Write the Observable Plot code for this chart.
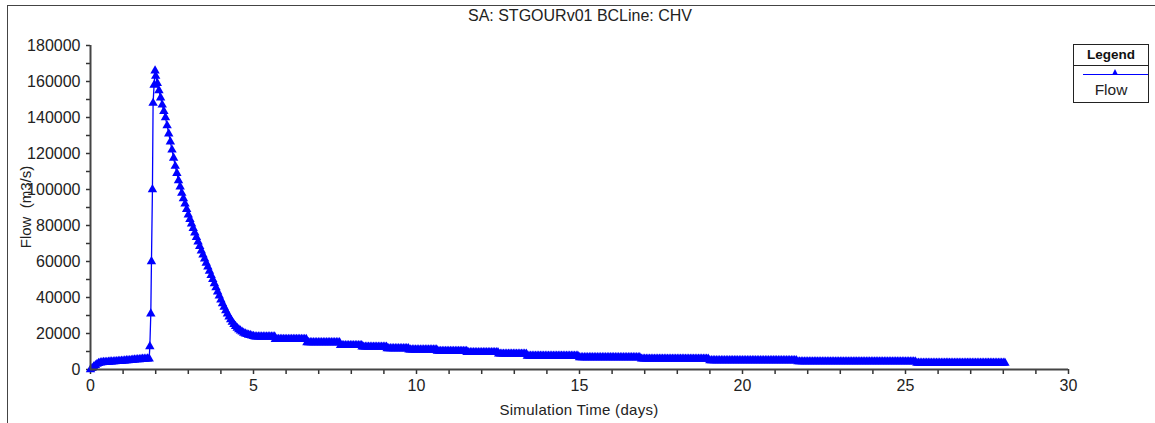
<!DOCTYPE html>
<html><head><meta charset="utf-8">
<script src="https://cdn.jsdelivr.net/npm/d3@7"></script>
<script src="https://cdn.jsdelivr.net/npm/@observablehq/plot@0.6"></script>
<style>
body{margin:0;background:#fff;font-family:"Liberation Sans",Arial,sans-serif;}
#wrap{position:relative;width:1155px;height:423px;overflow:hidden;background:#fff}
#wrap svg{position:absolute;left:0;top:0}
.frameTop{position:absolute;left:7px;top:5px;width:1148px;height:0;border-top:1.5px solid #444}
.frameLeft{position:absolute;left:7px;top:5px;width:0;height:418px;border-left:1.5px solid #444}
.title{position:absolute;left:0;width:1160px;top:7px;text-align:center;font-size:16px;color:#222}
.xlab{position:absolute;left:90px;width:978px;top:401px;text-align:center;font-size:15px;color:#222;letter-spacing:0.3px}
.ylab{position:absolute;left:25px;top:207px;font-size:15px;color:#222;transform:translate(-50%,-50%) rotate(-90deg);white-space:pre}
.legend{position:absolute;left:1073px;top:44px;width:74px;height:57px;border:1px solid #222;background:#fff}
.legend .hd{height:20px;border-bottom:1px solid #222;text-align:center;font-weight:bold;font-size:13.5px;line-height:20px;color:#111}
.legend .ln{position:absolute;left:9px;right:0;top:29px;height:0;border-top:1.3px solid #0000ff}
.legend .tri{position:absolute;left:38px;top:24px;width:0;height:0;border-left:3.5px solid transparent;border-right:3.5px solid transparent;border-bottom:6px solid #0000ff}
.legend .nm{position:absolute;left:0;right:0;top:36px;text-align:center;font-size:15.5px;color:#222}
</style></head><body>
<div id="wrap">
  <div class="frameTop"></div><div class="frameLeft"></div>
  <div class="title">SA: STGOURv01 BCLine: CHV</div>
  <div class="xlab">Simulation Time (days)</div>
  <div class="ylab">Flow  (m3/s)</div>
  <div class="legend"><div class="hd">Legend</div><div class="ln"></div><div class="tri"></div><div class="nm">Flow</div></div>
</div>
<script>
// ---- data ----
// base flow before the flood, sampled every 0.05 day from day 0 (m3/s)
const baseT0 = 0, baseDt = 0.05;
const baseQ = [0, 700, 1500, 2300, 3000, 3500, 3800, 3900, 4000, 4050, 4100, 4200, 4300, 4350, 4400, 4450,
  4500, 4550, 4600, 4700, 4800, 4900, 5000, 5050, 5100, 5200, 5300, 5400, 5500, 5550, 5600, 5700,
  5800, 5850, 5900, 5950, 6000];
// rising limb and peak
const spikeT = [1.82, 1.85, 1.87, 1.90, 1.92, 1.95, 1.98];
const spikeQ = [12800, 31000, 60000, 100000, 148000, 158000, 166000];
// recession, sampled every 0.05 day from 2.0 to 5.0
const recT0 = 2.0, recDt = 0.05;
const recQ = [163000, 159000, 155000, 151000, 147000, 143500, 140000, 135500, 131000, 126500,
  122000, 117500, 113000, 109000, 105000, 101500, 98000, 95000, 92000, 89000,
  86000, 83500, 81000, 78500, 76000, 73500, 71000, 68500, 66000, 63700,
  61500, 59200, 57000, 54700, 52400, 50100, 47800, 45500, 43200, 41000,
  38800, 36700, 34700, 32800, 31000, 29300, 27800, 26400, 25100, 24000,
  23000, 22200, 21500, 20900, 20300, 19900, 19500, 19200, 19000, 18700, 18500];
// stepped tail: plateau start day and level
const tailStart = [5.05, 5.67, 6.64, 7.67, 8.33, 9.1, 9.77, 10.64, 11.55, 12.52, 13.4, 15.0, 16.9, 19.0, 21.7, 25.35];
const tailLevel = [18200, 16800, 15000, 13400, 12600, 11700, 11000, 10200, 9500, 8700, 7500, 6700, 5900, 5000, 4400, 3600];
const tailEnd = 28.05;
const tailDt = 0.05;
// axes
const xMajor = [0, 5, 10, 15, 20, 25, 30];
const xMinor = [1, 2, 3, 4, 6, 7, 8, 9, 11, 12, 13, 14, 16, 17, 18, 19, 21, 22, 23, 24, 26, 27, 28, 29];
const yMajor = [0, 20000, 40000, 60000, 80000, 100000, 120000, 140000, 160000, 180000];
const yMinor = [10000, 30000, 50000, 70000, 90000, 110000, 130000, 150000, 170000];

// ---- build the series ----
const series = [];
baseQ.forEach((q, i) => series.push({t: baseT0 + i * baseDt, q}));
spikeT.forEach((t, i) => series.push({t, q: spikeQ[i]}));
recQ.forEach((q, i) => series.push({t: recT0 + i * recDt, q}));
tailStart.forEach((s, i) => {
  const e = i + 1 < tailStart.length ? tailStart[i + 1] : tailEnd + 1e-9;
  for (let t = s; t < e - 1e-9; t += tailDt) series.push({t, q: tailLevel[i]});
});
series.push({t: tailEnd, q: tailLevel[tailLevel.length - 1]});

const blue = "#0000ff";
const chart = Plot.plot({
  width: 1155, height: 423,
  marginLeft: 90, marginRight: 87, marginTop: 45, marginBottom: 54,
  x: {domain: [0, 30]},
  y: {domain: [0, 180000]},
  style: {fontFamily: "Liberation Sans, Arial, sans-serif", fontSize: "16px", color: "#222", background: "transparent", overflow: "visible"},
  marks: [
    Plot.axisX(xMajor, {tickSize: 5, tickPadding: 5, tickFormat: d => String(d), label: null, stroke: "#333", strokeWidth: 1.5}),
    Plot.axisX(xMinor, {tickSize: 5, tickFormat: () => "", label: null, stroke: "#333", strokeWidth: 1.5}),
    Plot.axisY(yMajor, {tickSize: 4, tickPadding: 6, tickFormat: d => String(d), label: null, stroke: "#333", strokeWidth: 1.5}),
    Plot.axisY(yMinor, {tickSize: 4, tickFormat: () => "", label: null, stroke: "#333", strokeWidth: 1.5}),
    Plot.line(series, {x: "t", y: "q", stroke: blue, strokeWidth: 1.3}),
    Plot.dot(series, {x: "t", y: "q", symbol: "triangle", r: 3.5, fill: blue, stroke: "none"}),
    Plot.ruleY([0], {stroke: "#444", strokeWidth: 2}),
    Plot.ruleX([0], {stroke: "#444", strokeWidth: 2})
  ]
});
document.getElementById("wrap").prepend(chart);
</script>
</body></html>
